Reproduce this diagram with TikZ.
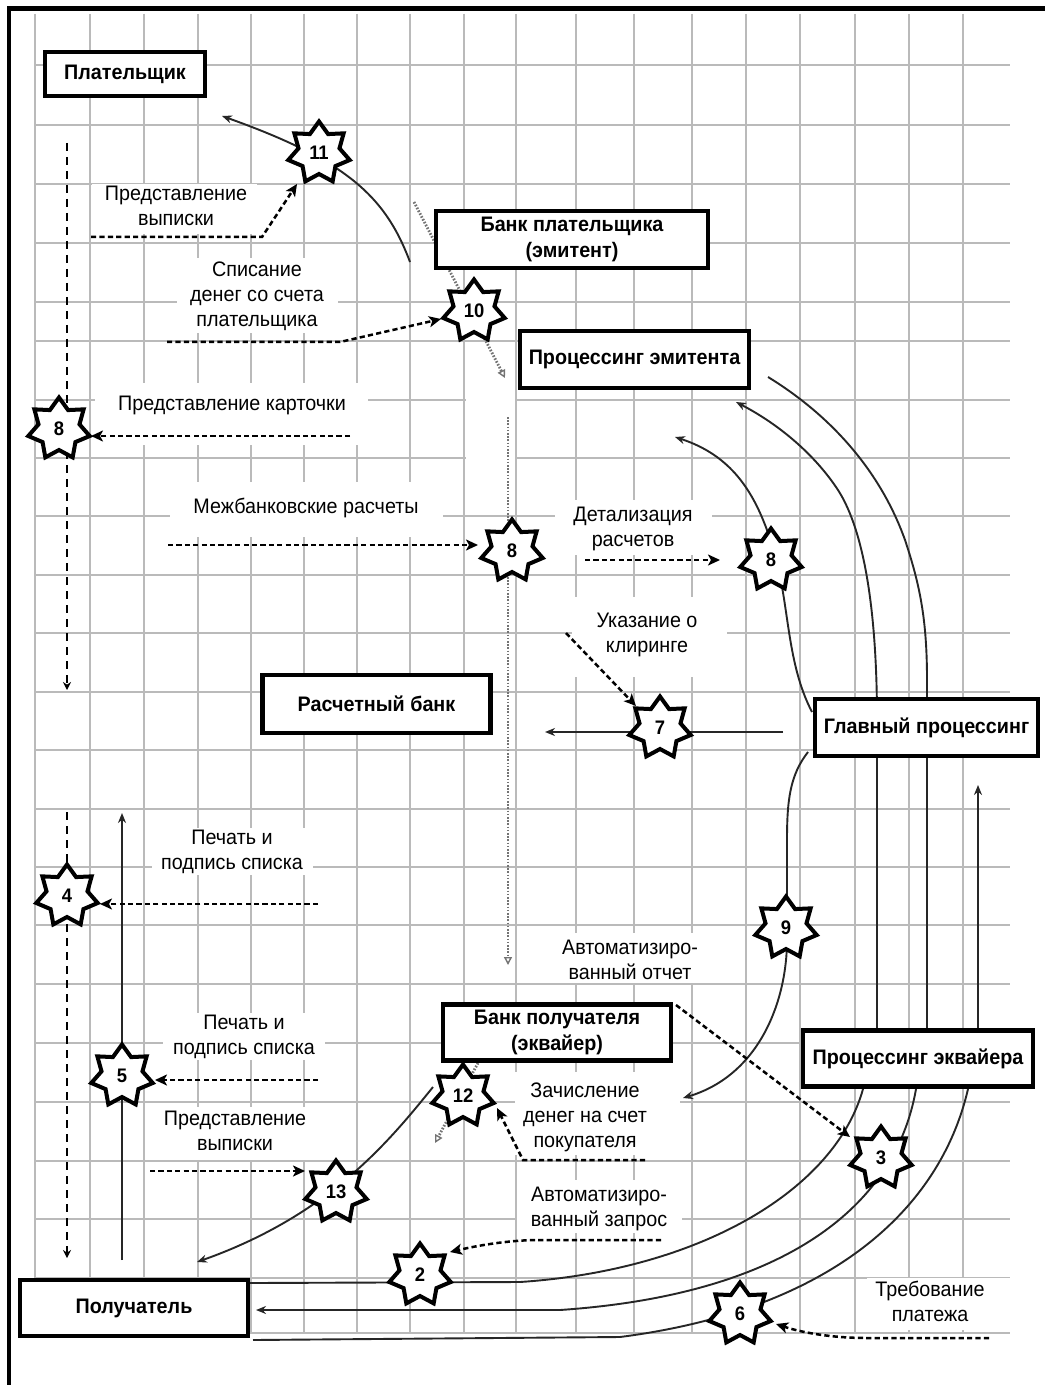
\documentclass[tikz,border=0pt]{standalone}
\usepackage{fontspec}
\setmainfont{Liberation Sans}[FakeStretch=0.94]
\usetikzlibrary{shapes.geometric,arrows.meta}

\begin{document}
\begin{tikzpicture}[x=0.5pt,y=-0.5pt,
  gridline/.style={black!27, line width=1pt},
  box/.style={draw, line width=2.1pt, fill=white, inner sep=0pt, align=center,
    font=\bfseries\fontsize{10.5}{13}\selectfont},
  badge/.style={star, star points=7, star point ratio=1.5, draw, line width=2pt,
    line join=miter, fill=white, minimum size=31.5pt, inner sep=0pt,
    font=\bfseries\fontsize{9.8}{10}\selectfont},
  note/.style={font=\fontsize{10.5}{12.5}\selectfont, align=center, inner sep=0pt},
  cue/.style={line width=1.25pt, dash pattern=on 2.6pt off 1.6pt,
    -{Stealth[length=6pt,width=5.5pt,inset=1.5pt]}},
  flow/.style={line width=0.95pt, black!85},
  flowarrow/.style={flow, -{Stealth[length=5pt,width=4pt]}},
  dots/.style={black!55, line width=1.4pt, dash pattern=on 0.8pt off 0.8pt,
    -{Triangle[open,length=4pt,width=4pt,line width=0.7pt]}},
  longdash/.style={line width=1pt, dash pattern=on 4pt off 3pt,
    -{Stealth[length=4pt,width=4pt]}}
]
\useasboundingbox (0,0) rectangle (1045,1385);
\fill[white] (0,0) rectangle (1045,1385);

% squared paper
\foreach \x in {35,90,144,198,251,304,357,410,464,516,576,634,692,746,800,855,909,963}
  \draw[gridline] (\x,14) -- (\x,1333);
\foreach \y in {65,125,184,243,302,341,400,458,516,575,633,692,750,809,867,925,984,1043,1102,1161,1219,1278,1333}
  \draw[gridline] (35,\y) -- (1010,\y);

% clear areas under the captions
\fill[white] (92,184) rectangle (257,234);
\fill[white] (177,258) rectangle (338,333);
\fill[white] (95,383) rectangle (368,445);
\fill[white] (170,482) rectangle (443,537);
\fill[white] (466,392) rectangle (515,515);
\fill[white] (555,500) rectangle (712,555);
\fill[white] (572,597) rectangle (727,677);
\fill[white] (152,828) rectangle (313,875);
\fill[white] (549,933) rectangle (717,983);
\fill[white] (163,1013) rectangle (325,1060);
\fill[white] (515,1072) rectangle (680,1155);
\fill[white] (152,1107) rectangle (322,1160);
\fill[white] (517,1180) rectangle (682,1233);
\fill[white] (867,1278) rectangle (1010,1330);

% frame
\draw[line width=2.3pt, line join=miter] (9,1385) -- (9,8.5) -- (1045,8.5);

% free ends of the flows
\coordinate (c11s) at (410,262);   \coordinate (c11e) at (222,116);
\coordinate (d10s) at (414,202);   \coordinate (d10e) at (505,378);
\coordinate (dvs) at (508,417);    \coordinate (dve) at (508,965);
\coordinate (c7s) at (783,732);    \coordinate (c7e) at (545,732);
\coordinate (c8s) at (812,712);    \coordinate (c8e) at (675,437);
\coordinate (cbs) at (877,1029);   \coordinate (cbe) at (736,402);
\coordinate (ccs) at (768,377);    \coordinate (cce) at (927,1029);
\coordinate (cds) at (978,1029);   \coordinate (cde) at (978,785);
\coordinate (c9s) at (808,752);    \coordinate (c9e) at (683,1098);
\coordinate (cgs) at (863,1089);   \coordinate (cge) at (250,1283);
\coordinate (chs) at (916,1089);   \coordinate (che) at (256,1310);
\coordinate (cis) at (968,1089);   \coordinate (cie) at (253,1340);
\coordinate (c13s) at (433,1087);  \coordinate (c13e) at (197,1262);
\coordinate (d12s) at (478,1063);  \coordinate (d12e) at (435,1143);
\coordinate (v1s) at (67,143);     \coordinate (v1e) at (67,690);
\coordinate (v2s) at (67,812);     \coordinate (v2e) at (67,1258);
\coordinate (v3s) at (122,1260);   \coordinate (v3e) at (122,813);

% flows
\draw[flowarrow] (c11s) .. controls (385,195) and (345,160) .. (c11e);
\draw[dots] (d10s) -- (d10e);
\draw[dots] (dvs) -- (dve);
\draw[flowarrow] (c7s) -- (c7e);
\draw[flowarrow] (c8s) .. controls (785,660) and (790,600) .. (772,545)
  .. controls (755,490) and (730,455) .. (c8e);
\draw[flowarrow] (cbs) -- (877,720) .. controls (877,640) and (870,540) .. (838,490)
  .. controls (815,455) and (780,425) .. (cbe);
\draw[flow] (ccs) .. controls (830,415) and (880,470) .. (905,540)
  .. controls (920,585) and (927,620) .. (927,680) -- (cce);
\draw[flowarrow] (cds) -- (cde);
\draw[flowarrow] (c9s) .. controls (790,775) and (787,800) .. (787,840) -- (787,940)
  .. controls (787,1000) and (760,1075) .. (c9e);
\draw[flow] (cgs) .. controls (835,1190) and (700,1270) .. (520,1282) -- (cge);
\draw[flowarrow] (chs) .. controls (895,1210) and (780,1295) .. (560,1310) -- (che);
\draw[flow] (cis) .. controls (940,1210) and (830,1310) .. (620,1337) -- (cie);
\draw[flowarrow] (c13s) .. controls (390,1140) and (330,1215) .. (c13e);
\draw[dots] (d12s) -- (d12e);
\draw[longdash] (v1s) -- (v1e);
\draw[longdash] (v2s) -- (v2e);
\draw[flowarrow] (v3s) -- (v3e);

% participants
\node[box, minimum width=80pt, minimum height=22pt] (payer) at (125,74) {Плательщик};
\node[box, minimum width=136pt, minimum height=28.5pt] (issuer) at (572,239.5) {Банк плательщика\\(эмитент)};
\node[box, minimum width=114.5pt, minimum height=28.5pt] (issproc) at (634.5,359.5) {Процессинг эмитента};
\node[box, minimum width=114pt, minimum height=29pt] (settle) at (376.5,704) {Расчетный банк};
\node[box, minimum width=111.5pt, minimum height=28.5pt] (mainproc) at (926.5,727.5) {Главный процессинг};
\node[box, minimum width=114pt, minimum height=28pt] (acquirer) at (557,1032.5) {Банк получателя\\(эквайер)};
\node[box, minimum width=115pt, minimum height=28pt] (acqproc) at (918,1058.5) {Процессинг эквайера};
\node[box, minimum width=114pt, minimum height=28pt] (rcv) at (134,1308) {Получатель};

% step markers
\node[badge] (s11) at (319,153) {11};
\node[badge] (s10) at (474,311) {10};
\node[badge] (s8a) at (59,429) {8};
\node[badge] (s8b) at (512,551) {8};
\node[badge] (s8c) at (771,560) {8};
\node[badge] (s7) at (660,728) {7};
\node[badge] (s9) at (786,928) {9};
\node[badge] (s4) at (67,896) {4};
\node[badge] (s5) at (122,1076) {5};
\node[badge] (s12) at (463,1096) {12};
\node[badge] (s13) at (336,1192) {13};
\node[badge] (s3) at (881,1158) {3};
\node[badge] (s2) at (420,1275) {2};
\node[badge] (s6) at (740,1314) {6};

% caption pointers
\coordinate (a1) at (91,237);    \coordinate (a1e) at (297,184);
\coordinate (a2) at (167,342);   \coordinate (a2e) at (441,319);
\coordinate (a3) at (350,436);   \coordinate (a3e) at (91,436);
\coordinate (a4) at (168,545);   \coordinate (a4e) at (478,545);
\coordinate (a5) at (585,560);   \coordinate (a5e) at (720,560);
\coordinate (a6) at (566,633);   \coordinate (a6e) at (636,706);
\coordinate (a7) at (318,904);   \coordinate (a7e) at (100,904);
\coordinate (a8) at (318,1080);  \coordinate (a8e) at (155,1080);
\coordinate (a9) at (150,1171);  \coordinate (a9e) at (305,1171);
\coordinate (a10) at (676,1005); \coordinate (a10e) at (850,1137);
\coordinate (a11) at (645,1160); \coordinate (a11e) at (497,1108);
\coordinate (a12) at (661,1240); \coordinate (a12e) at (450,1252);
\coordinate (a13) at (989,1338); \coordinate (a13e) at (776,1324);

\draw[cue] (a1) -- (262,237) -- (a1e);
\draw[cue] (a2) -- (340,342) -- (a2e);
\draw[cue] (a3) -- (a3e);
\draw[cue] (a4) -- (a4e);
\draw[cue] (a5) -- (a5e);
\draw[cue] (a6) -- (a6e);
\draw[cue] (a7) -- (a7e);
\draw[cue] (a8) -- (a8e);
\draw[cue] (a9) -- (a9e);
\draw[cue] (a10) -- (a10e);
\draw[cue] (a11) -- (523,1160) -- (a11e);
\draw[cue] (a12) -- (540,1240) .. controls (510,1240) and (480,1245) .. (a12e);
\draw[cue] (a13) -- (867,1338) .. controls (830,1338) and (800,1332) .. (a13e);

% captions
\node[note] (t1) at (176,206) {Представление\\выписки};
\node[note] (t2) at (257,296) {Списание\\денег со счета\\плательщика};
\node[note] (t3) at (232,405) {Представление карточки};
\node[note] (t4) at (306,508) {Межбанковские расчеты};
\node[note] (t5) at (633,529) {Детализация\\расчетов};
\node[note] (t6) at (647,635) {Указание о\\клиринге};
\node[note] (t7) at (232,852) {Печать и\\подпись списка};
\node[note] (t8) at (244,1037) {Печать и\\подпись списка};
\node[note] (t9) at (235,1131) {Представление\\выписки};
\node[note] (t10) at (630,960) {Автоматизиро-\\ванный отчет};
\node[note] (t11) at (585,1117) {Зачисление\\денег на счет\\покупателя};
\node[note] (t12) at (599,1209) {Автоматизиро-\\ванный запрос};
\node[note] (t13) at (930,1301) {Требование\\платежа};
\end{tikzpicture}
\end{document}
